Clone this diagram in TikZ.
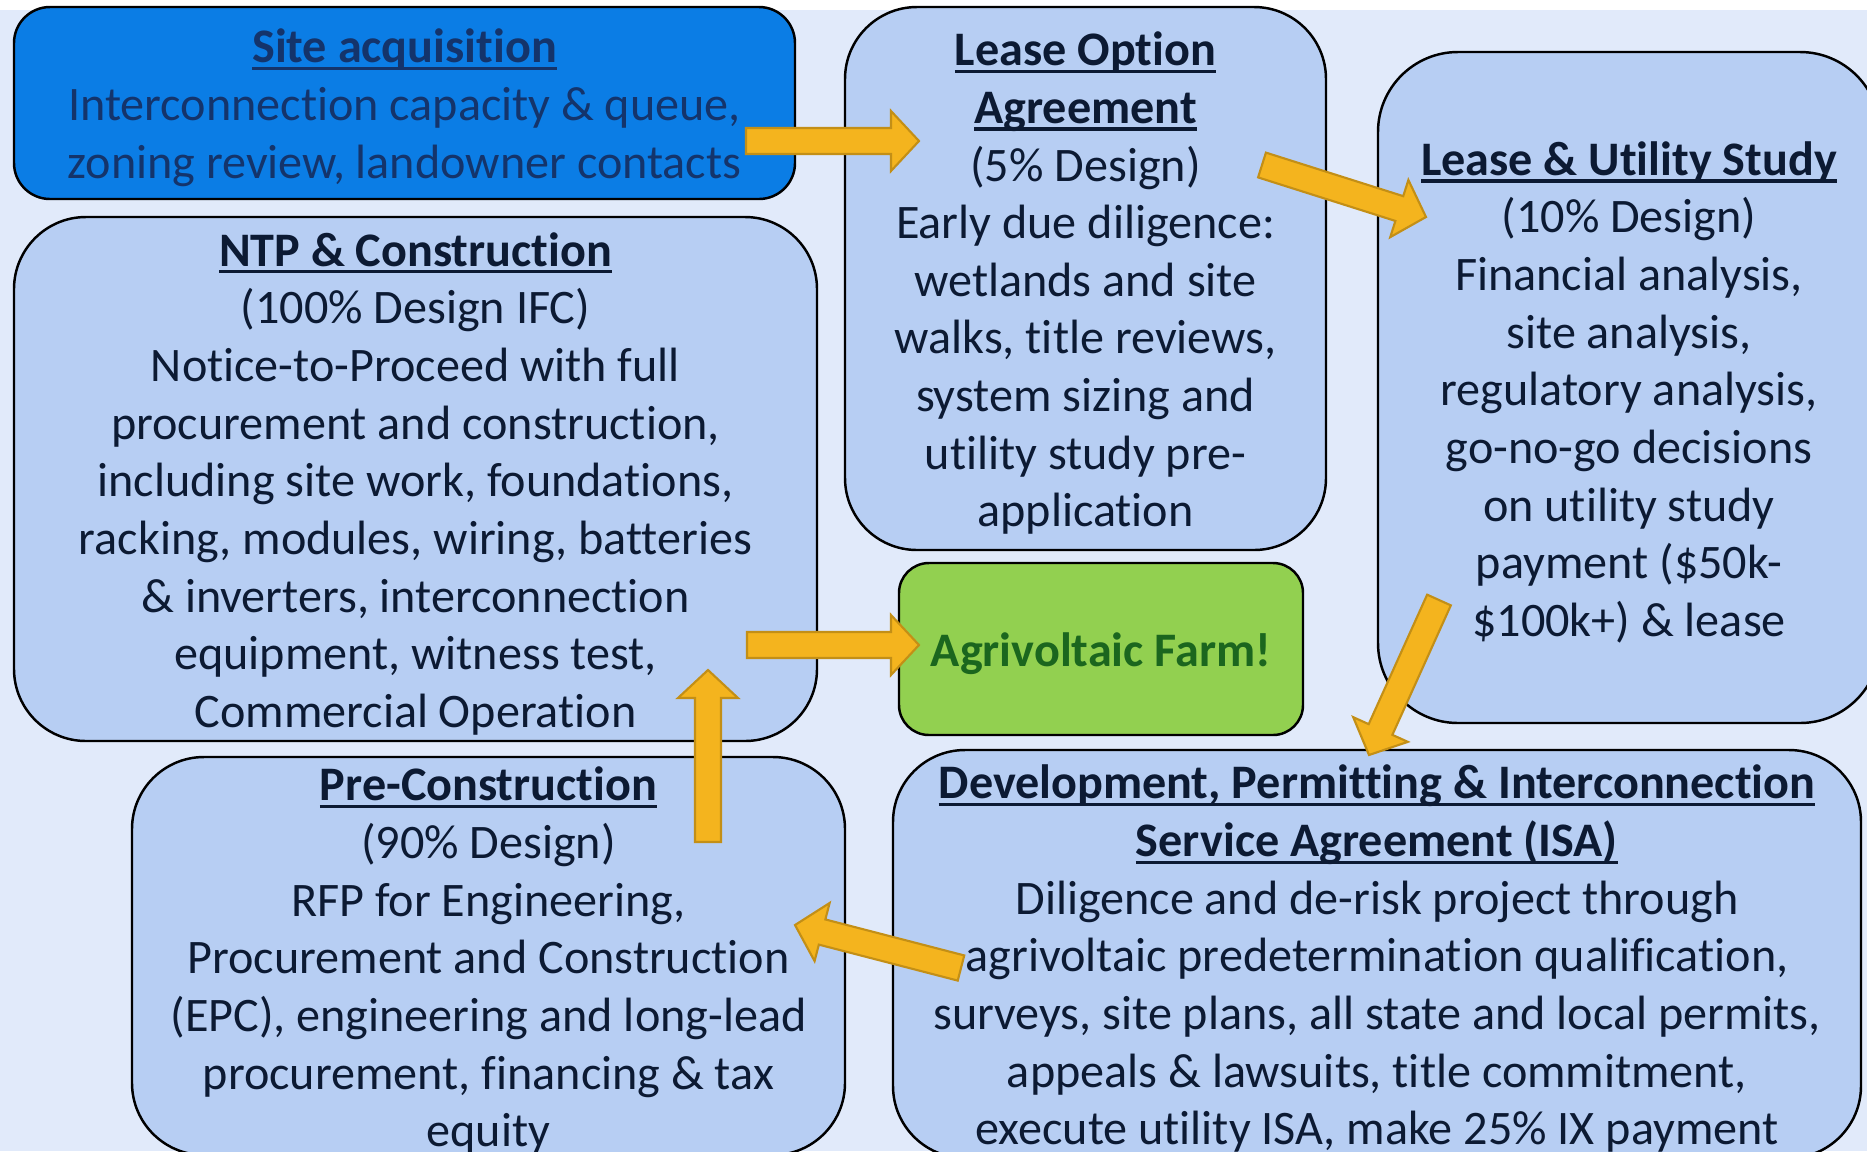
\documentclass[tikz,border=0pt]{standalone}
\usepackage{fontspec}
\setmainfont{Carlito}[Ligatures={NoCommon,NoContextual}, RawFeature={-clig;-dlig}]
\usetikzlibrary{calc}

\definecolor{pagebg}{HTML}{E1EAFA}
\definecolor{stagefill}{HTML}{B7CEF3}
\definecolor{sitefill}{HTML}{0B7DE5}
\definecolor{inktext}{HTML}{0C1A33}
\definecolor{sitetext}{HTML}{14346B}
\definecolor{farmfill}{HTML}{92D050}
\definecolor{farmtext}{HTML}{1B661E}
\definecolor{arrowfill}{HTML}{F4B41E}
\definecolor{arrowline}{HTML}{C38F16}

% bold heading with a thick underline (the strut evens out the first line)
\newcommand\stagetitle[1]{{\bfseries\rule{0pt}{0.9em}\setbox0=\hbox{#1}\rlap{\rule[-0.15em]{\wd0}{0.065em}}\box0}}

% block arrow from #1 (tail) to #2 (tip)
\def\arrowshaft{0.13cm}
\def\arrowwing{0.30cm}
\def\arrowhead{0.28cm}
\newcommand\blockarrow[2]{%
  \coordinate (neck) at ($(#2)!\arrowhead!(#1)$);
  \draw[flowarrow] ($(#1)!\arrowshaft!90:(#2)$) -- ($(neck)!\arrowshaft!-90:(#1)$)
    -- ($(neck)!\arrowwing!-90:(#1)$) -- (#2) -- ($(neck)!\arrowwing!90:(#1)$)
    -- ($(neck)!\arrowshaft!90:(#1)$) -- ($(#1)!\arrowshaft!-90:(#2)$) -- cycle;}

\tikzset{
  stage/.style={draw=black, line width=0.7pt, fill=stagefill, rounded corners=0.72cm,
    align=center, text=inktext, inner sep=0pt, font=\fontsize{13.7}{16.4}\selectfont},
  flowarrow/.style={fill=arrowfill, draw=arrowline, line width=0.6pt, line join=miter}
}

\begin{document}
\begin{tikzpicture}
		%%%%% page %%%%%
		\useasboundingbox (0,0) rectangle (18.67,-11.51);
		\clip (0,0) rectangle (18.67,-11.51);
		\fill[white] (0,0) rectangle (18.67,-11.51);
		\fill[pagebg] (0,-0.10) rectangle (18.67,-11.51);
		
		%%%%% stages %%%%%
		\node[stage, fill=sitefill, text=sitetext, rounded corners=0.36cm,
			minimum width=7.81cm, minimum height=1.92cm] (site) at (4.045,-1.03)
			{\stagetitle{Site acquisition}\\
			Interconnection capacity \& queue,\\
			zoning review, landowner contacts};
		
		\node[stage, minimum width=4.81cm, minimum height=5.43cm] (option) at (10.855,-2.785)
			{\stagetitle{Lease Option}\\
			\stagetitle{Agreement}\\
			(5\% Design)\\
			Early due diligence:\\
			wetlands and site\\
			walks, title reviews,\\
			system sizing and\\
			utility study pre-\\
			application};
		
		\node[stage, rounded corners=0.8cm, minimum width=5.02cm, minimum height=6.71cm] (study) at (16.29,-3.875)
			{\stagetitle{Lease \& Utility Study}\\
			(10\% Design)\\
			Financial analysis,\\
			site analysis,\\
			regulatory analysis,\\
			go-no-go decisions\\
			on utility study\\
			payment (\$50k-\\
			\$100k+) \& lease};
		
		\node[stage, minimum width=8.03cm, minimum height=5.24cm] (ntp) at (4.155,-4.79)
			{\stagetitle{NTP \& Construction}\\
			(100\% Design IFC)\\
			Notice-to-Proceed with full\\
			procurement and construction,\\
			including site work, foundations,\\
			racking, modules, wiring, batteries\\
			\& inverters, interconnection\\
			equipment, witness test,\\
			Commercial Operation};
		
		\node[stage, fill=farmfill, text=farmtext, rounded corners=0.3cm,
			minimum width=4.04cm, minimum height=1.72cm] (farm) at (11.01,-6.49)
			{\rule{0pt}{0.9em}\textbf{Agrivoltaic Farm!}};
		
		\node[stage, minimum width=7.13cm, minimum height=3.98cm] (precon) at (4.885,-9.56)
			{\stagetitle{Pre-Construction}\\
			(90\% Design)\\
			RFP for Engineering,\\
			Procurement and Construction\\
			(EPC), engineering and long-lead\\
			procurement, financing \& tax\\
			equity};
		
		\node[stage, minimum width=9.68cm, minimum height=4.08cm] (devel) at (13.77,-9.54)
			{\stagetitle{Development, Permitting \& Interconnection}\\
			\stagetitle{Service Agreement (ISA)}\\
			Diligence and de-risk project through\\
			agrivoltaic predetermination qualification,\\
			surveys, site plans, all state and local permits,\\
			appeals \& lawsuits, title commitment,\\
			execute utility ISA, make 25\% IX payment};
		
		%%%%% arrow ends %%%%%
		\coordinate (site-out) at (7.46,-1.41);
		\coordinate (option-in) at (9.19,-1.41);
		\coordinate (option-out) at (12.62,-1.65);
		\coordinate (study-in) at (14.26,-2.17);
		\coordinate (study-out) at (14.39,-6.00);
		\coordinate (devel-in) at (13.69,-7.55);
		\coordinate (devel-out) at (9.61,-9.68);
		\coordinate (precon-in) at (7.95,-9.25);
		\coordinate (precon-out) at (7.08,-8.42);
		\coordinate (ntp-in) at (7.08,-6.70);
		\coordinate (ntp-out) at (7.47,-6.45);
		\coordinate (farm-in) at (9.19,-6.45);
		
		\blockarrow{site-out}{option-in}
		\blockarrow{option-out}{study-in}
		\blockarrow{study-out}{devel-in}
		\blockarrow{devel-out}{precon-in}
		\blockarrow{precon-out}{ntp-in}
		\blockarrow{ntp-out}{farm-in}
		
\end{tikzpicture}
\end{document}
